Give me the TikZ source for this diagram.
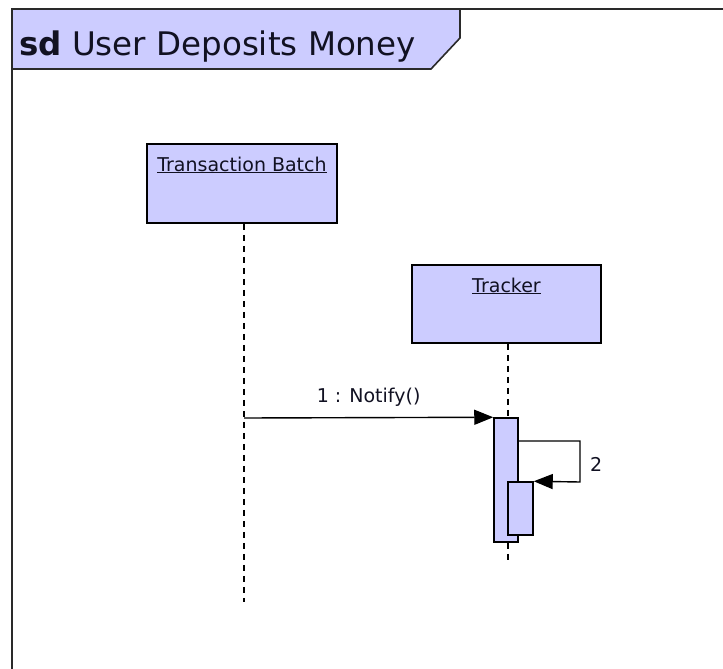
\documentclass[tikz,border=0pt]{standalone}
\usepackage{fontspec}
\setmainfont{DejaVu Sans}
\usetikzlibrary{arrows.meta}
\definecolor{lav}{HTML}{CCCCFF}
\definecolor{frm}{HTML}{2A2A2A}
\definecolor{txt}{HTML}{111122}
\tikzset{
  objbox/.style={draw=black, fill=lav, line width=1.5pt, inner sep=0pt},
  actbox/.style={draw=black, fill=lav, line width=1.5pt, inner sep=0pt, minimum width=24pt},
  lifeline/.style={draw=black, line width=1.6pt, dash pattern=on 6pt off 5pt},
  msg/.style={draw=black, line width=1.4pt, -{Triangle[length=19pt,width=15pt]}},
  lbl/.style={font=\fontsize{19}{22}\selectfont, inner sep=0pt, text=txt},
}
\begin{document}
\begin{tikzpicture}[x=1pt,y=-1pt]
\useasboundingbox (0,0) rectangle (723,669);
\fill[white] (0,0) rectangle (723,669);
% frame
\draw[frm, line width=2pt] (12,669) -- (12,9) -- (723,9);
% title tab
\path[fill=lav, draw=frm, line width=1.6pt] (12,9) -- (460,9) -- (460,38) -- (431,69) -- (12,69);
\draw[frm, line width=2pt] (12,69) -- (12,9) -- (460,9);
\node[anchor=base west, inner sep=0pt, text=txt, font=\fontsize{32.5}{36}\selectfont] (title) at (19,56) {\textbf{sd} User Deposits Money};
% objects
\node[objbox, minimum width=190pt, minimum height=79pt] (tb) at (242,183.5) {};
\node[lbl, anchor=base] (tbl) at (242,171) {\underline{Transaction Batch}};
\node[objbox, minimum width=189pt, minimum height=78pt] (tr) at (506.5,304) {};
\node[lbl, anchor=base] (trl) at (506.5,292) {\underline{Tracker}};
% activations
\node[actbox, minimum height=124pt] (a1) at (506,480) {};
\node[actbox, minimum width=25pt, minimum height=53pt] (a2) at (520.5,508.5) {};
% lifelines
\coordinate (tbend) at (244,602);
\coordinate (trend) at (508,563);
\draw[lifeline] (tb.south -| tbend) -- (tbend);
\draw[lifeline] (tr.south -| trend) -- (a1.north -| trend);
\draw[lifeline] (a1.south -| trend) -- (trend);
% redraw activations on top
\node[actbox, minimum height=124pt] at (a1) {};
\node[actbox, minimum width=25pt, minimum height=53pt] at (a2) {};
% message 1
\coordinate (m1) at (244,418);
\draw[msg] (m1) -- (a1.north west) node[midway, above=10pt, lbl] (m1l) {1 : Notify()};
% self message 2
\coordinate (s1) at (a1.east |- 0,441);
\coordinate (s2) at (580,441);
\coordinate (s3) at (580,482);
\draw[msg] (s1) -- (s2) -- (s3) -- (a2.north east);
\node[lbl, anchor=west] (m2l) at (590,464) {2};
\end{tikzpicture}
\end{document}
